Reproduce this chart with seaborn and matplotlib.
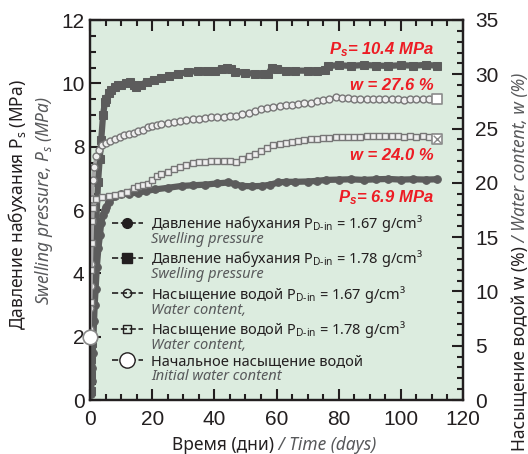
import matplotlib
matplotlib.use("Agg")
import matplotlib.pyplot as plt
from matplotlib.lines import Line2D
from matplotlib.ticker import MultipleLocator
from matplotlib.transforms import IdentityTransform
import seaborn as sns

# Давление набухания, P_D-in = 1.78 g/cm3 (MPa)
ps178_day = [0.2, 0.3, 0.4, 0.5, 0.6, 0.7, 0.8, 1.0, 1.2, 1.5, 2.0, 2.6, 3.1, 3.6, 4.2, 4.8, 5.3, 6.0,
             6.9, 8.0, 9.0, 10.1, 11.5, 12.8, 14.0, 14.9, 16.5, 18.2, 20.5, 23.0, 25.5, 28.4, 31.5,
             34.8, 37.5, 40.2, 42.5, 44.0, 45.5, 46.7, 50.0, 53.1, 56.0, 57.4, 58.5, 60.0, 63.0, 66.0,
             70.0, 73.0, 75.5, 76.5, 80.0, 84.0, 88.0, 92.0, 96.0, 100.0, 104.0, 108.0, 111.5]
ps178 = [0.3, 0.8, 1.3, 1.8, 2.5, 3.0, 3.5, 4.0, 4.5, 5.0, 5.6, 6.9, 7.6, 8.2, 9.0, 9.4, 9.5, 9.7,
         9.8, 9.9, 9.95, 9.95, 10.0, 10.05, 9.95, 9.88, 9.95, 10.05, 10.1, 10.17, 10.22, 10.3, 10.35,
         10.4, 10.4, 10.4, 10.45, 10.5, 10.45, 10.37, 10.33, 10.3, 10.3, 10.3, 10.5, 10.45, 10.4, 10.4,
         10.4, 10.4, 10.42, 10.55, 10.57, 10.55, 10.58, 10.56, 10.55, 10.57, 10.56, 10.58, 10.56]

# Давление набухания, P_D-in = 1.67 g/cm3 (MPa)
ps167_day = [0.3, 0.5, 0.7, 0.9, 1.1, 1.3, 1.5, 1.8, 2.2, 2.7, 3.2, 3.6, 4.2, 4.8, 5.3, 6.0, 6.9, 8.0,
             10.1, 12.5, 15.5, 18.0, 20.9, 25.0, 29.5, 33.0, 37.0, 41.0, 44.5, 46.5, 48.8, 52.0, 55.3,
             58.0, 60.6, 63.0, 66.0, 70.0, 73.0, 76.0, 80.0, 84.0, 88.0, 92.0, 96.0, 100.0, 104.0,
             108.0, 111.5]
ps167 = [0.2, 0.6, 1.0, 1.5, 2.0, 2.5, 3.0, 3.5, 4.2, 4.8, 5.2, 5.6, 5.85, 6.0, 6.1, 6.25, 6.4, 6.45,
         6.5, 6.52, 6.55, 6.6, 6.65, 6.7, 6.76, 6.78, 6.8, 6.84, 6.87, 6.82, 6.76, 6.75, 6.76,
         6.8, 6.87, 6.89, 6.89, 6.9, 6.92, 6.95, 6.96, 6.97, 6.95, 6.97, 6.98, 6.96, 6.97,
         6.96, 6.97]

# Насыщение водой, P_D-in = 1.67 g/cm3: (день, %)
w167_pts = [(0.0, 6.5), (0.1, 8.5), (0.2, 10.5), (0.3, 12.5), (0.4, 14.5), (0.5, 16.5), (0.7, 18.5),
            (1.0, 20.3), (1.4, 21.5), (2, 22.5), (3, 23.0), (4, 23.5), (5, 23.7), (6.5, 23.9),
            (8, 24.0), (9.5, 24.2), (11, 24.4), (12.5, 24.5), (14, 24.6), (15.5, 24.8), (17, 24.9),
            (18.5, 25.1), (20, 25.2), (21.5, 25.3), (23, 25.4), (25, 25.5), (27, 25.6), (29, 25.7),
            (31, 25.75), (33, 25.85), (35, 25.9), (37, 26.0), (39, 26.05), (41, 26.1), (43, 26.1),
            (45, 26.2), (47, 26.2), (49, 26.3), (51, 26.4), (53, 26.6), (55, 26.8), (57, 26.9),
            (59, 27.0), (61, 27.1), (63, 27.15), (65, 27.2), (67, 27.3), (69, 27.35), (71, 27.4),
            (73, 27.5), (75, 27.6), (77, 27.7), (79, 27.9), (81, 27.85), (83, 27.8), (85, 27.75),
            (87, 27.7), (89, 27.7), (91, 27.75), (93, 27.7), (95, 27.7), (97, 27.75), (99, 27.7),
            (101, 27.65), (103, 27.7), (105, 27.7), (107, 27.75), (109, 27.7), (111, 27.7)]

# Насыщение водой, P_D-in = 1.78 g/cm3: (день, %)
w178_pts = [(0.0, 6.0), (0.2, 9.0), (0.4, 12.0), (0.6, 14.5), (0.8, 16.5), (1.0, 17.7), (2, 18.5),
            (4, 18.7), (6, 18.8), (8, 18.9), (10, 19.0), (12, 19.2), (14, 19.5), (15.5, 19.7),
            (17, 19.8), (18.5, 19.9), (20, 20.3), (21.5, 20.6), (23, 20.8), (25, 21.0), (27, 21.3),
            (29, 21.5), (31, 21.6), (33, 21.8), (35, 21.9), (37, 21.95), (39, 22.0), (41, 22.05),
            (43, 22.05), (45, 22.0), (47, 21.9), (49, 22.2), (51, 22.5), (53, 22.7), (55, 22.9),
            (57, 23.2), (59, 23.5), (61, 23.6), (63, 23.7), (65, 23.8), (67, 23.85), (69, 23.95),
            (71, 24.0), (73, 24.0), (75, 24.1), (77, 24.1), (79, 24.2), (81, 24.2), (83, 24.2),
            (85, 24.25), (87, 24.2), (89, 24.3), (91, 24.3), (93, 24.3), (95, 24.35), (97, 24.3),
            (99, 24.3), (101, 24.25), (103, 24.3), (105, 24.2), (107, 24.3), (109, 24.25), (111, 24.2)]

# начальное и конечное насыщение (%)
init_day = [0.0]
init_w = [5.8]
final_day = [111.7, 111.7]
final_w = [27.7, 24.0]

labels_ru = [
    "Давление набухания P$_\\mathregular{D\u2010in}$ = 1.67 g/cm³",
    "Давление набухания P$_\\mathregular{D\u2010in}$ = 1.78 g/cm³",
    "Насыщение водой P$_\\mathregular{D\u2010in}$ = 1.67 g/cm³",
    "Насыщение водой P$_\\mathregular{D\u2010in}$ = 1.78 g/cm³",
    "Начальное насыщение водой",
]
labels_en = ["Swelling pressure", "Swelling pressure", "Water content,", "Water content,",
             "Initial water content"]

w167_day = [p[0] for p in w167_pts]
w167 = [p[1] for p in w167_pts]
w178_day = [p[0] for p in w178_pts]
w178 = [p[1] for p in w178_pts]

sns.set_style("ticks")
plt.rcParams['font.family'] = ['Noto Sans', 'DejaVu Sans']
plt.rcParams['mathtext.fontset'] = 'custom'
plt.rcParams['mathtext.rm'] = 'Noto Sans'
plt.rcParams['mathtext.it'] = 'Noto Sans:italic'
plt.rcParams['mathtext.bf'] = 'Liberation Sans:bold:italic'

dark = '#231f20'
grey = '#58595b'
mark = '#5c5c5c'
red = '#ed1c24'

fig = plt.figure(figsize=(5.28, 4.54), dpi=100)
ax = fig.add_axes([90 / 528, 1 - 400 / 454, 373 / 528, 380 / 454])
ax2 = ax.twinx()
ax.set_facecolor('#dcecdf')

sns.lineplot(x=ps178_day, y=ps178, ax=ax, color=mark, lw=4.5, marker='s', ms=5.5, mec=mark,
             estimator=None, sort=False)
sns.lineplot(x=ps167_day, y=ps167, ax=ax, color=mark, lw=4.5, marker='o', ms=5.5, mec=mark,
             estimator=None, sort=False)
sns.lineplot(x=w167_day, y=w167, ax=ax2, color='#a8a8a8', lw=2.5, marker='o', ms=5,
             mfc='#eeeeee', mec='#767676', mew=1.0, estimator=None, sort=False)
sns.lineplot(x=w178_day, y=w178, ax=ax2, color='#a8a8a8', lw=2.5, marker='s', ms=4.6,
             mfc='#eeeeee', mec='#767676', mew=1.0, estimator=None, sort=False)
sns.scatterplot(x=final_day, y=final_w, ax=ax2, marker='s', s=55, color='white',
                edgecolor='#8a8a8a', linewidth=1.2, zorder=5)
sns.scatterplot(x=final_day[1:], y=final_w[1:], ax=ax2, marker='x', s=30, color='#8a8a8a',
                linewidth=1.0, zorder=6)
sns.scatterplot(x=init_day, y=init_w, ax=ax2, marker='o', s=110, color='white',
                edgecolor='#8a8a8a', linewidth=1.2, zorder=6, clip_on=False)

ax.set_xlim(0, 120)
ax.set_ylim(0, 12)
ax2.set_ylim(0, 35)
ax.set_xlabel('')
ax.set_ylabel('')
ax2.set_ylabel('')

ax.xaxis.set_major_locator(MultipleLocator(20))
ax.xaxis.set_minor_locator(MultipleLocator(5))
ax.yaxis.set_major_locator(MultipleLocator(2))
ax.yaxis.set_minor_locator(MultipleLocator(0.5))
ax2.yaxis.set_major_locator(MultipleLocator(5))
ax2.yaxis.set_minor_locator(MultipleLocator(1))

for a in (ax, ax2):
    for s in a.spines.values():
        s.set_linewidth(1.6)
        s.set_color(dark)
ax.tick_params(which='both', direction='in', top=True, right=False, width=1.5, color=dark,
               labelsize=15, labelcolor=dark)
ax.tick_params(which='major', length=8)
ax.tick_params(which='minor', length=4)
ax.tick_params(axis='x', pad=7)
ax.tick_params(axis='y', pad=4)
ax2.tick_params(which='both', direction='in', width=1.5, color=dark, labelsize=15,
                labelcolor=dark, pad=9)
ax2.tick_params(which='major', length=8)
ax2.tick_params(which='minor', length=4)
for t in ax.get_xticklabels() + ax.get_yticklabels() + ax2.get_yticklabels():
    t.set_fontfamily('Liberation Sans')

# подписи значений
rk = dict(color=red, fontsize=12, fontweight='bold', fontstyle='italic', ha='right', va='center',
          family='Liberation Sans')
ax.text(110.6, 11.05, r"$\mathbf{P_s}$= 10.4 MPa", **rk)
ax.text(110.6, 9.94, "w = 27.6 %", **rk)
ax.text(110.6, 7.71, "w = 24.0 %", **rk)
ax.text(110.6, 6.38, r"$\mathbf{P_s}$= 6.9 MPa", **rk)

# подписи осей
fig.text(18 / 528, 1 - 205 / 454, "Давление набухания P$_\\mathregular{s}$ (MPa)", rotation=90,
         ha='center', va='center', fontsize=12.5, color=dark)
fig.text(44 / 528, 1 - 200 / 454, "Swelling pressure, $P_s$ (MPa)", rotation=90,
         ha='center', va='center', fontsize=12.5, color=grey, fontstyle='italic')

xru = fig.text(274 / 528, 1 - 445 / 454, "Время (дни)", ha='right', va='center',
               fontsize=12.5, color=dark)
ax.annotate(" / Time (days)", xy=(1, 0.5), xycoords=xru, ha='left', va='center',
            fontsize=12.5, color=grey, fontstyle='italic', annotation_clip=False)

yru = fig.text(520 / 528, 3 / 454, "Насыщение водой w (%)", rotation=90, ha='center',
               va='bottom', fontsize=12.5, color=dark)
ax.annotate(" / Water content, w (%)", xy=(0.5, 1), xycoords=yru, ha='center', va='bottom',
            rotation=90, fontsize=12.5, color=grey, fontstyle='italic', annotation_clip=False)

# легенда
handles = [
    Line2D([], [], color=dark, ls='--', lw=1.2, marker='o', ms=7, mfc=dark, mec=dark),
    Line2D([], [], color=dark, ls='--', lw=1.2, marker='s', ms=7.5, mfc=dark, mec=dark),
    Line2D([], [], color=dark, ls='--', lw=1.2, marker='o', ms=6, mfc='none', mec=dark),
    Line2D([], [], color=dark, ls='--', lw=1.2, marker='s', ms=6, mfc='none', mec=dark),
    Line2D([], [], color=dark, ls='--', lw=1.2, marker='o', ms=11, mfc='white', mec=dark),
]
leg_fs = 10.5
first_y = 454 - 223   # центр первого маркера легенды, px снизу
pitch = 34.25
en_shift = 16.5


def make_legend(ls, anchor_y):
    lg = ax2.legend(handles, labels_ru, loc='upper left', bbox_to_anchor=(0.059, anchor_y),
                    frameon=False, fontsize=leg_fs, handlelength=2.1, handletextpad=0.6,
                    labelspacing=ls, borderpad=0, borderaxespad=0)
    for txt in lg.get_texts():
        txt.set_color(dark)
    return lg


def handle_centres(lg):
    r = fig.canvas.get_renderer()
    out = []
    for h in lg.legend_handles:
        bb = h.get_window_extent(r)
        out.append((bb.y0 + bb.y1) / 2)
    return out


ls, anchor = 0.8, 0.49
for _ in range(3):
    leg = make_legend(ls, anchor)
    fig.canvas.draw()
    yc = handle_centres(leg)
    p = (yc[0] - yc[-1]) / 4
    ls += (pitch - p) / (leg_fs * 100 / 72)
    leg = make_legend(ls, anchor)
    fig.canvas.draw()
    yc = handle_centres(leg)
    anchor += (first_y - yc[0]) / 380

# английские строки легенды под русскими
for txt, en, y in zip(leg.get_texts(), labels_en, yc):
    bb = txt.get_window_extent()
    fig.text(bb.x0, y - en_shift, en, transform=IdentityTransform(),
             ha='left', va='center', fontsize=leg_fs, fontstyle='italic', color=grey)

fig.savefig("out.png", dpi=100)
